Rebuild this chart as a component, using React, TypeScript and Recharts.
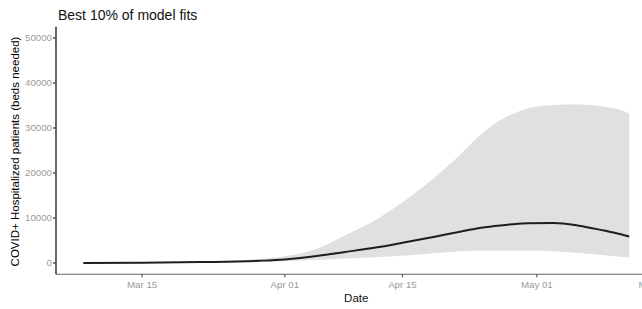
import React from 'react';
import { ComposedChart, Area, Line, XAxis, YAxis, Label } from 'recharts';

// Day index: days since Mar 01
const dayIndex = [7, 14, 21, 28, 31, 35, 38, 42, 45, 49, 52, 54, 56, 58, 60, 63, 66, 69, 71, 72];
const meanBeds = [0, 50, 200, 500, 800, 1600, 2400, 3500, 4500, 5900, 7000, 7700, 8200, 8600, 8850, 8900, 8300, 7200, 6400, 5900];
const lowerBeds = [0, 0, 100, 300, 400, 700, 1000, 1300, 1600, 2200, 2600, 2700, 2800, 2800, 2800, 2600, 2200, 1700, 1400, 1300];
const upperBeds = [0, 100, 300, 900, 1500, 3300, 6000, 9800, 13500, 19300, 24300, 28000, 31000, 33000, 34400, 35100, 35200, 34700, 34000, 33200];

const xTickDays = [14, 31, 45, 61, 75];
const xTickLabels = ['Mar 15', 'Apr 01', 'Apr 15', 'May 01', 'May 15'];
const yTicks = [0, 10000, 20000, 30000, 40000, 50000];

const data = dayIndex.map((d, i) => ({
  day: d,
  mean: meanBeds[i],
  band: [lowerBeds[i], upperBeds[i]],
}));

const FONT = '"Liberation Sans", Arial, Helvetica, sans-serif';

export default function App() {
  return (
    <div style={{ position: 'absolute', left: 0, top: 0, width: 642, height: 309, overflow: 'hidden', background: '#fff' }}>
      <ComposedChart
        width={680}
        height={309}
        data={data}
        margin={{ top: 26.75, right: 23.5, bottom: 0, left: 0 }}
      >
        <text x={58} y={19.5} fontSize={14} fontFamily={FONT} fill="#111">
          Best 10% of model fits
        </text>
        <XAxis
          dataKey="day"
          type="number"
          domain={[3.75, 75.25]}
          ticks={xTickDays}
          tickFormatter={(v: number) => xTickLabels[xTickDays.indexOf(v)]}
          height={34.75}
          stroke="#666"
          strokeWidth={1.2}
          tickSize={3}
          tickMargin={3.5}
          tick={{ fontSize: 9.7, fill: '#9a9a9a', fontFamily: FONT }}
          tickLine={{ stroke: '#555' }}
          allowDataOverflow
        >
          <Label value="Date" position="insideBottom" offset={7} style={{ fontSize: 11.5, fill: '#111', fontFamily: FONT }} />
        </XAxis>
        <YAxis
          type="number"
          domain={[-2500, 52500]}
          ticks={yTicks}
          width={56}
          stroke="#333"
          strokeWidth={1.5}
          tickSize={3}
          tickMargin={1}
          tick={{ fontSize: 9.7, fill: '#9a9a9a', fontFamily: FONT }}
          tickLine={{ stroke: '#555' }}
          allowDataOverflow
        >
          <Label
            value="COVID+ Hospitalized patients (beds needed)"
            angle={-90}
            position="insideLeft"
            offset={0}
            content={(props: any) => {
              const vb = props.viewBox || {};
              const cy = (vb.y ?? 0) + (vb.height ?? 0) / 2 + 1;
              return (
                <text
                  x={14.7}
                  y={cy}
                  transform={`rotate(-90, 14.7, ${cy})`}
                  textAnchor="middle"
                  dominantBaseline="central"
                  fontSize={11.5}
                  fontFamily={FONT}
                  fill="#000"
                >
                  COVID+ Hospitalized patients (beds needed)
                </text>
              );
            }}
          />
        </YAxis>
        <Area
          dataKey="band"
          type="monotone"
          stroke="none"
          fill="#e0e0e0"
          fillOpacity={1}
          isAnimationActive={false}
          activeDot={false}
          dot={false}
        />
        <Line
          dataKey="mean"
          type="monotone"
          stroke="#1e1e1e"
          strokeWidth={2}
          dot={false}
          activeDot={false}
          isAnimationActive={false}
        />
      </ComposedChart>
    </div>
  );
}
